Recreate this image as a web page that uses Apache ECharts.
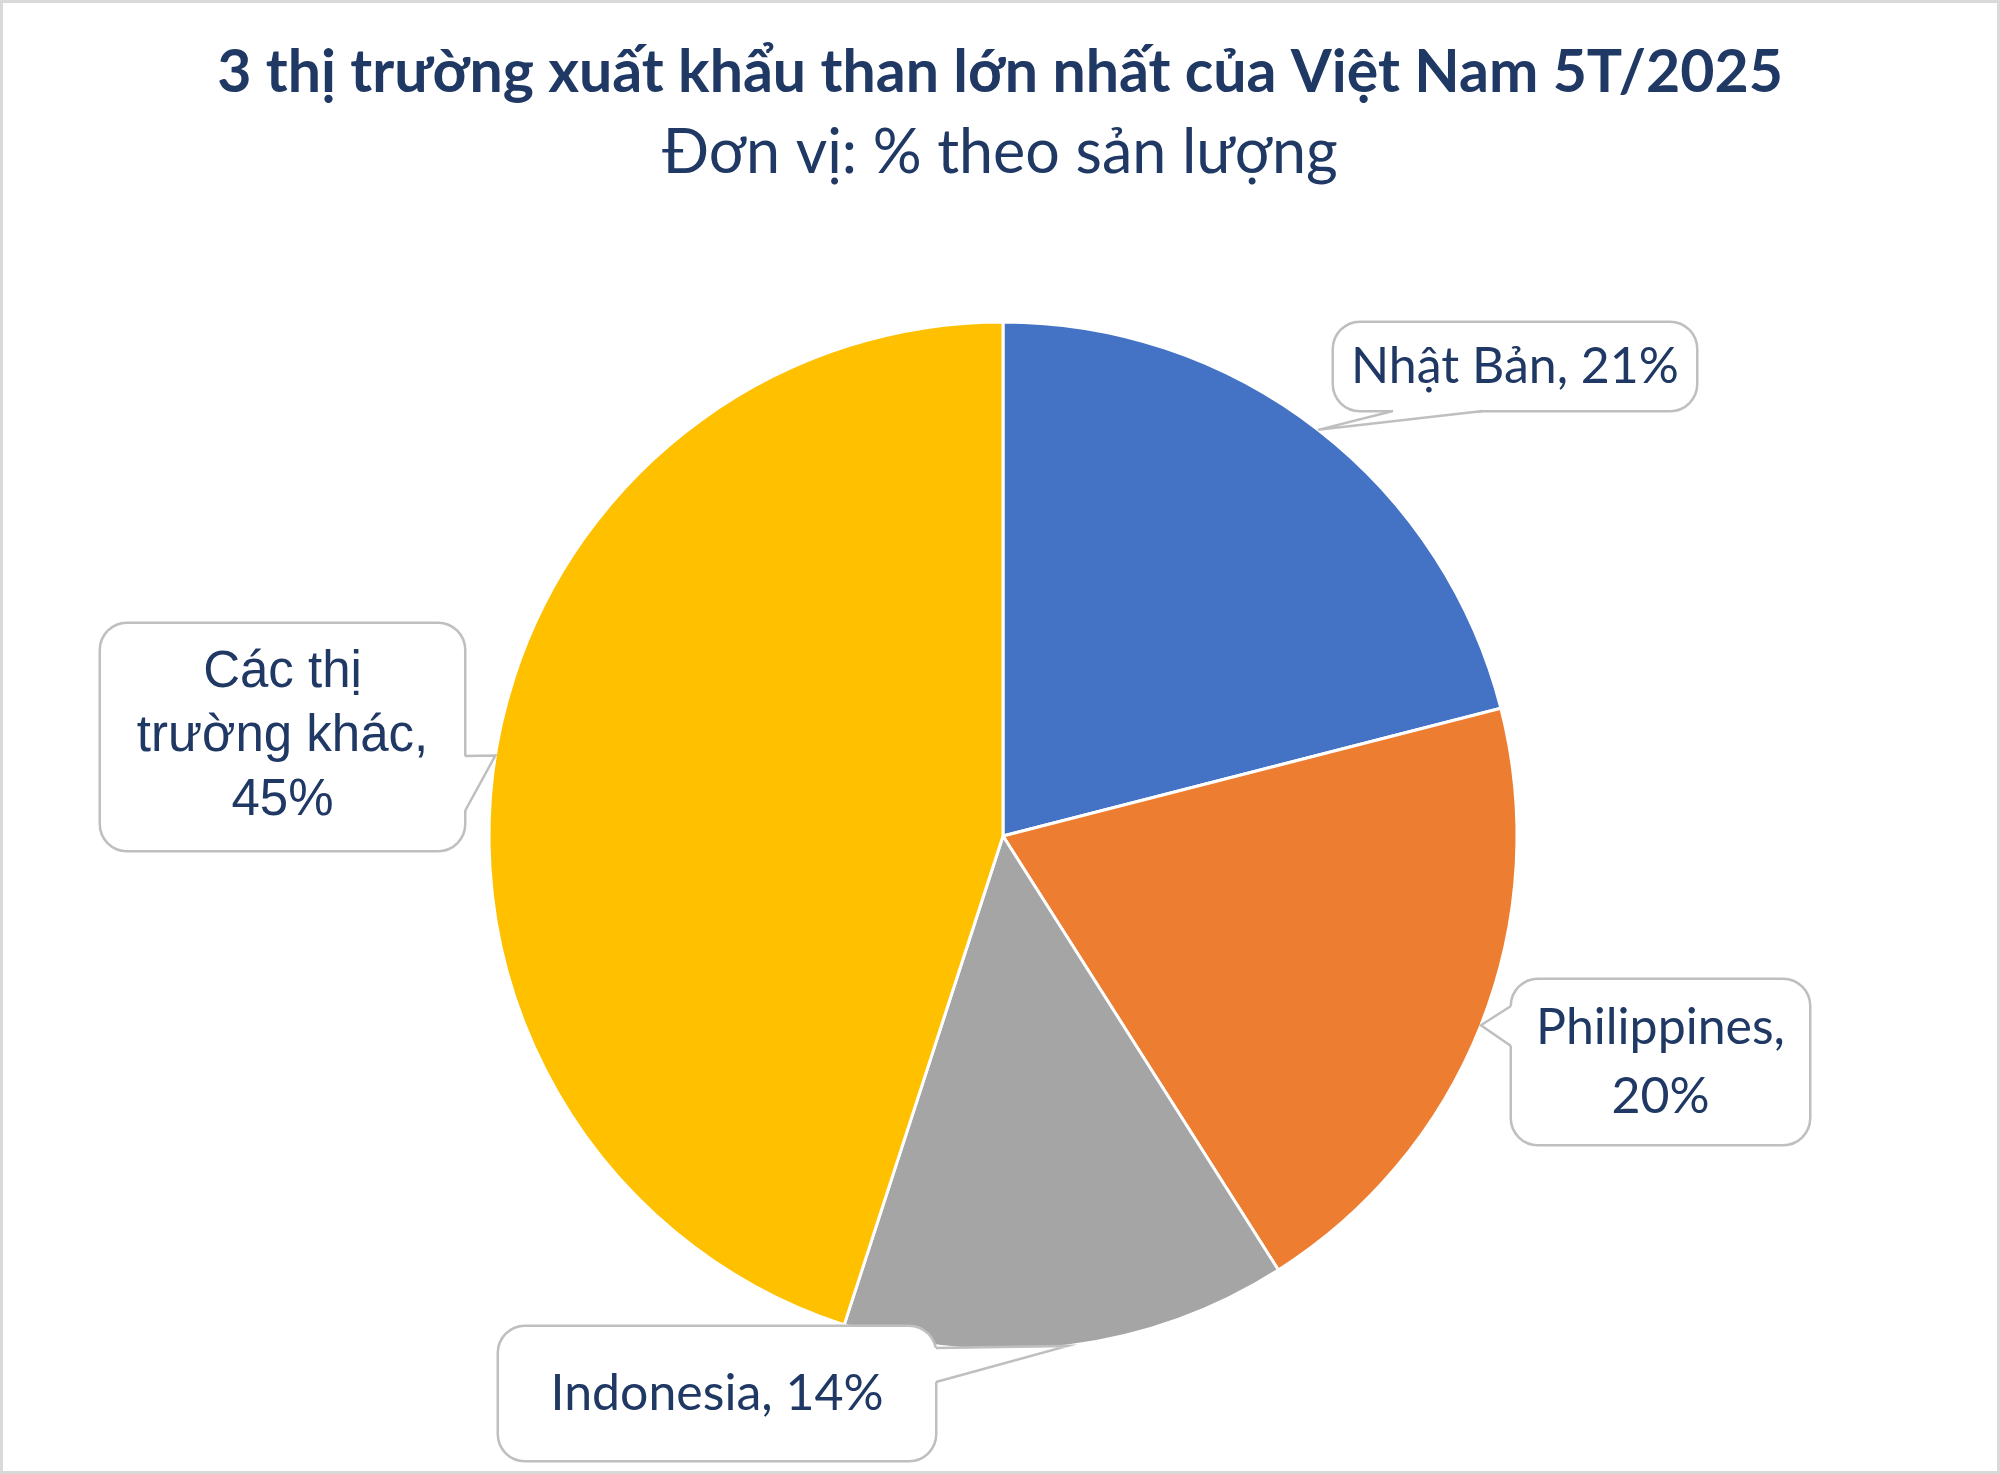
<!DOCTYPE html>
<html>
<head>
<meta charset="utf-8">
<script src="https://cdn.jsdelivr.net/npm/echarts@6/dist/echarts.min.js"></script>
<style>
html,body{margin:0;padding:0;background:#fff;}
#chart{width:2000px;height:1474px;box-sizing:border-box;border:3px solid #d9d9d9;}
</style>
</head>
<body>
<div id="chart"></div>
<script>
const titleText = '3 thị trường xuất khẩu than lớn nhất của Việt Nam 5T/2025';
const subtitleText = 'Đơn vị: % theo sản lượng';
const categories = ['Nhật Bản', 'Philippines', 'Indonesia', 'Các thị trường khác'];
const values = [21, 20, 14, 45];
const colors = ['#4472C4', '#ED7D31', '#A5A5A5', '#FFC000'];
// label line breaks (display form of category names)
const displayNames = ['Nhật Bản', 'Philippines', 'Indonesia', 'Các thị\ntrường khác'];
const separators = [', ', ',\n', ', ', ',\n'];

// callout box layout (pixels) — styling only
const CAL = 'Lato, "Noto Sans", sans-serif';
const ARI = '"Liberation Sans", Arial, sans-serif';
const boxes = [
  {left: 1330, top: 319, w: 364, h: 89, lines: 1, lh: 60, font: CAL, size: 50,
   side: 'bottom', base: [1390, 1480]},
  {left: 1508, top: 976, w: 299, h: 166, lines: 2, lh: 69, font: CAL, size: 50,
   side: 'left', base: [1003, 1043]},
  {left: 495, top: 1323, w: 438, h: 135, lines: 1, lh: 60, font: CAL, size: 50,
   side: 'right', base: [1345, 1379]},
  {left: 97, top: 620, w: 365, h: 228, lines: 3, lh: 64, font: ARI, size: 51,
   side: 'right', base: [753, 808]}
];
const BORDER = '#bfbfbf';
const textColor = '#1F3864';

const data = categories.map((name, i) => {
  const b = boxes[i];
  const padV = (b.h - b.lines * b.lh) / 2;
  return {
    name: name,
    value: values[i],
    itemStyle: {color: colors[i]},
    label: {
      formatter: displayNames[i] + separators[i] + values[i] + '%',
      fontFamily: b.font,
      fontSize: b.size,
      lineHeight: b.lh,
      width: b.w - 22,
      align: 'center',
      padding: [padV - 1, 10]
    }
  };
});

const chart = echarts.init(document.getElementById('chart'), null, {renderer: 'canvas'});
chart.setOption({
  backgroundColor: '#ffffff',
  animation: false,
  title: [
    {text: titleText, left: 'center', top: 32,
     textStyle: {fontFamily: CAL, fontWeight: 'bold', fontSize: 59, lineHeight: 66, color: textColor}},
    {text: subtitleText, left: 'center', top: 111,
     textStyle: {fontFamily: CAL, fontWeight: 'normal', fontSize: 61, lineHeight: 68, color: textColor}}
  ],
  series: [{
    type: 'pie',
    center: [1000, 833],
    radius: 514,
    startAngle: 90,
    clockwise: true,
    avoidLabelOverlap: false,
    itemStyle: {borderColor: '#ffffff', borderWidth: 3},
    label: {
      show: true,
      color: textColor,
      backgroundColor: '#ffffff',
      borderColor: BORDER,
      borderWidth: 2.5,
      borderRadius: 26
    },
    labelLine: {show: false},
    labelLayout: function (p) {
      const b = boxes[p.dataIndex];
      return {x: b.left + b.w / 2, y: b.top + b.h / 2, align: 'center', verticalAlign: 'middle'};
    },
    emphasis: {disabled: true},
    data: data
  }]
});

// callout pointers: tip at the slice's mid-angle on the rim (from the pie's own layout)
function sliceTip(i) {
  let lay = null;
  try { lay = chart.getModel().getSeriesByIndex(0).getData().getItemLayout(i); } catch (e) { lay = null; }
  if (lay && lay.r != null) {
    const mid = (lay.startAngle + lay.endAngle) / 2;
    return [lay.cx + lay.r * Math.cos(mid), lay.cy + lay.r * Math.sin(mid)];
  }
  const total = values.reduce((a, v) => a + v, 0);
  let acc = 0;
  for (let k = 0; k < i; k++) acc += values[k];
  const frac = (acc + values[i] / 2) / total;
  const ang = -Math.PI / 2 + frac * 2 * Math.PI;
  return [1000 + 514 * Math.cos(ang), 833 + 514 * Math.sin(ang)];
}

const graphics = [];
boxes.forEach((b, i) => {
  const tip = sliceTip(i);
  let p1, p2, q1, q2;
  const ins = 4;
  if (b.side === 'bottom') {
    const y = b.top + b.h;
    p1 = [b.base[0], y]; p2 = [b.base[1], y];
    q1 = [b.base[0], y - ins]; q2 = [b.base[1], y - ins];
  } else if (b.side === 'left') {
    const x = b.left;
    p1 = [x, b.base[0]]; p2 = [x, b.base[1]];
    q1 = [x + ins, b.base[0]]; q2 = [x + ins, b.base[1]];
  } else {
    const x = b.left + b.w;
    p1 = [x, b.base[0]]; p2 = [x, b.base[1]];
    q1 = [x - ins, b.base[0]]; q2 = [x - ins, b.base[1]];
  }
  graphics.push({
    type: 'polygon', z: 200, silent: true,
    shape: {points: [q1, p1, tip, p2, q2]},
    style: {fill: '#ffffff', stroke: null}
  });
  graphics.push({
    type: 'polyline', z: 201, silent: true,
    shape: {points: [p1, tip, p2]},
    style: {stroke: BORDER, lineWidth: 2.5, fill: null, lineJoin: 'miter'}
  });
});
chart.setOption({graphic: graphics});
</script>
</body>
</html>
